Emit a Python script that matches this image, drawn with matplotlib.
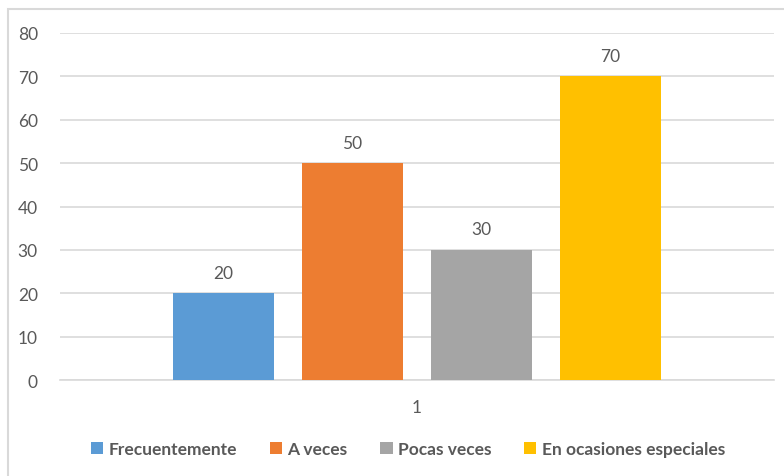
import matplotlib
matplotlib.use("Agg")
import matplotlib.pyplot as plt
from matplotlib.patches import Rectangle
import numpy as np

categories = ["1"]
series = ["Frecuentemente", "A veces", "Pocas veces", "En ocasiones especiales"]
values = [20, 50, 30, 70]
colors = ["#5B9BD5", "#ED7D31", "#A5A5A5", "#FFC000"]

txt = "#595959"
plt.rcParams['font.family'] = ['Lato', 'DejaVu Sans']

fig = plt.figure(figsize=(7.84, 4.77), dpi=100)
# chart frame (only top/left visible in the crop)
fig.patches.append(Rectangle((8 / 784, -0.1), 1.2, 1 - 10 / 477 + 0.1,
                             transform=fig.transFigure, fill=False,
                             edgecolor="#D9D9D9", linewidth=1.5))

ax = fig.add_axes([60 / 784, 1 - 381 / 477, 714 / 784, 347 / 477])

width = 0.1415
step = 0.1807
offsets = (np.arange(len(series)) - 1.5) * step
for i, (name, v, c) in enumerate(zip(series, values, colors)):
    x = offsets[i]
    ax.bar(x, v, width=width, color=c, label=name, zorder=3)
    ax.annotate(str(v), (x, v), xytext=(0, 9), textcoords="offset points",
                ha="center", va="bottom", fontsize=12.5, color=txt)

ax.set_xlim(-0.5, 0.5)
ax.set_ylim(0, 80)
ax.set_yticks(range(0, 81, 10))
ax.set_xticks([0])
ax.set_xticklabels(categories)
ax.grid(axis="y", color="#D9D9D9", linewidth=1.2, zorder=0)
for s in ["top", "right", "left"]:
    ax.spines[s].set_visible(False)
ax.spines["bottom"].set_color("#D9D9D9")
ax.spines["bottom"].set_linewidth(1.2)
ax.tick_params(axis="both", length=0, labelsize=12.5, labelcolor=txt)
ax.tick_params(axis="y", pad=16)
ax.tick_params(axis="x", pad=14)

leg = fig.legend(loc="center", bbox_to_anchor=(408 / 784, 1 - 450 / 477), ncol=4,
                 frameon=False, handlelength=0.7, handleheight=0.7,
                 handletextpad=0.3, columnspacing=1.9,
                 prop={"size": 12.5, "weight": "bold"})
for t in leg.get_texts():
    t.set_color(txt)

fig.savefig("out.png", dpi=100)
